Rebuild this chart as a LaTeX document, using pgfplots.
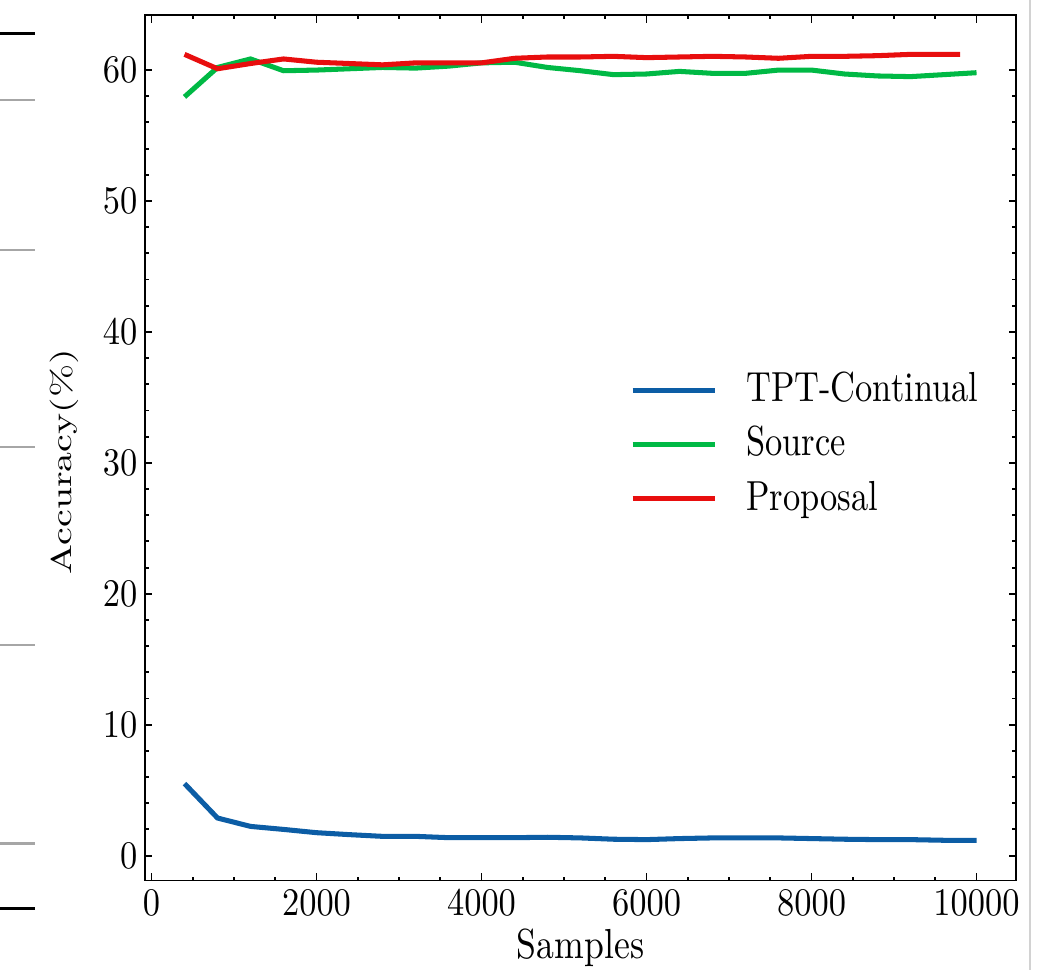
\documentclass[border=0pt]{standalone}
\usepackage{pgfplots}
\pgfplotsset{compat=1.18}
\definecolor{cblue}{HTML}{0C5DA5}
\definecolor{cgreen}{HTML}{00B945}
\definecolor{cred}{RGB}{232,14,14}
\begin{document}
\begin{tikzpicture}
\useasboundingbox (-34.5pt,-21.2pt) rectangle (217.6pt,209.6pt);
\begin{axis}[
  scale only axis,
  width=207.4pt, height=206pt,
  xmin=-80, xmax=10480, ymin=-1.9, ymax=64.2,
  xtick={0,2000,4000,6000,8000,10000},
  ytick={0,10,20,30,40,50,60},
  minor x tick num=3, minor y tick num=4,
  tick align=inside,
  major tick length=1.8pt, minor tick length=0.9pt,
  scaled x ticks=false,
  /pgf/number format/1000 sep={},
  axis line style={line width=0.45pt},
  every tick/.style={line width=0.45pt, black},
  xticklabel={\scalebox{0.82}[0.93]{$\pgfmathprintnumber{\tick}$}},
  yticklabel={\scalebox{0.82}[0.93]{$\pgfmathprintnumber{\tick}$}},
  xticklabel style={anchor=base, yshift=-8.3pt},
  yticklabel style={inner xsep=1.6pt},
  xlabel={\scalebox{0.85}[1]{Samples}},
  ylabel={\scalebox{0.95}[0.68]{Accuracy(\%)}},
  xlabel style={at={(rel axis cs:0.5,0)}, anchor=base, yshift=-18.6pt},
  ylabel style={at={(axis description cs:-0.093,0.484)}, anchor=center, rotate=0},
  legend image code/.code={\draw[#1] (0pt,0pt) -- (19.5pt,0pt);},
  legend style={draw=none, fill=none, inner sep=0pt, outer sep=0pt,
    at={(rel axis cs:0.557,0.504)}, anchor=west,
    nodes={inner xsep=0pt, inner ysep=0pt, text height=7.5pt, text depth=2pt},
    row sep=3.4pt, column sep=6.9pt},
  legend cell align=left,
]
\addplot[cblue, line width=1.2pt] coordinates {
(400,5.5) (800,2.87) (1200,2.23) (1600,2.0) (2000,1.75) (2400,1.6) (2800,1.47) (3200,1.47)
(3600,1.37) (4000,1.37) (4400,1.37) (4800,1.4) (5200,1.35) (5600,1.25) (6000,1.22) (6400,1.3)
(6800,1.35) (7200,1.35) (7600,1.35) (8000,1.3) (8400,1.25) (8800,1.22) (9200,1.22) (9600,1.17) (10000,1.17)};
\addlegendentry{\scalebox{0.82}[1]{TPT-Continual}}
\addplot[cgreen, line width=1.2pt] coordinates {
(400,57.95) (800,60.2) (1200,60.85) (1600,59.95) (2000,60.0) (2400,60.1) (2800,60.2) (3200,60.15)
(3600,60.3) (4000,60.55) (4400,60.6) (4800,60.2) (5200,59.95) (5600,59.65) (6000,59.7) (6400,59.9)
(6800,59.75) (7200,59.75) (7600,60.0) (8000,60.0) (8400,59.7) (8800,59.55) (9200,59.5) (9600,59.65) (10000,59.8)};
\addlegendentry{\scalebox{0.82}[1]{Source}}
\addplot[cred, line width=1.2pt] coordinates {
(400,61.2) (800,60.1) (1200,60.5) (1600,60.85) (2000,60.6) (2400,60.5) (2800,60.4) (3200,60.55)
(3600,60.55) (4000,60.55) (4400,60.9) (4800,61.0) (5200,61.0) (5600,61.05) (6000,60.95) (6400,61.0)
(6800,61.05) (7200,61.0) (7600,60.9) (8000,61.05) (8400,61.05) (8800,61.1) (9200,61.2) (9600,61.2) (9800,61.2)};
\addlegendentry{\scalebox{0.82}[1]{Proposal}}
\end{axis}
% cropped page fragments at the left and right edges of the screenshot
\draw[line width=0.8pt] (-34.5pt,201.7pt) -- (-26.2pt,201.7pt);
\draw[line width=0.8pt] (-34.5pt,-6.7pt) -- (-26.2pt,-6.7pt);
\foreach \yy in {185.7,150,103.1,56,8.8} {\draw[gray!70, line width=0.5pt] (-34.5pt,\yy pt) -- (-26.2pt,\yy pt);}
\draw[gray!35, line width=0.4pt] (210.7pt,209.6pt) -- (210.7pt,-21.2pt);
\end{tikzpicture}
\end{document}
